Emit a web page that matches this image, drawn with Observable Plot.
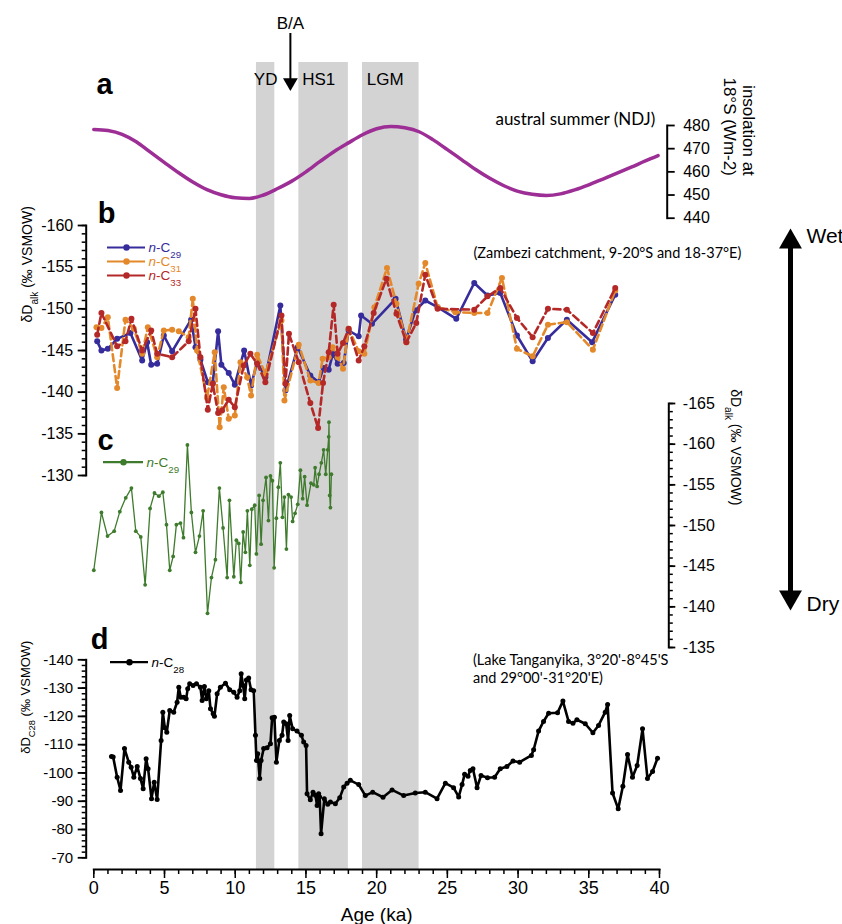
<!DOCTYPE html>
<html>
<head>
<meta charset="utf-8">
<script src="https://cdn.jsdelivr.net/npm/d3@7"></script>
<script src="https://cdn.jsdelivr.net/npm/@observablehq/plot@0.6"></script>
<style>
  html, body { margin: 0; padding: 0; background: white; }
  #chart { position: relative; width: 842px; height: 924px; overflow: hidden; }
  #chart svg { position: absolute; left: 0; top: 0; }
</style>
</head>
<body>
<div id="chart"></div>
<script>
// ---------------- DATA ----------------
// Event bands (ka)
const eventName = ["YD", "HS1", "LGM"];
const bandStart = [11.5, 14.5, 19.0];
const bandEnd = [12.8, 18.0, 23.0];
const eventLabelAge = [12.15, 15.9, 20.6];
const baAge = 13.9;

// a: austral summer (NDJ) insolation at 18°S (W m-2)
const insolation = [[0,478.3],[1,477.8],[2,476.2],[3,473.0],[4,468.5],[5,464.0],[6,459.6],[7,455.6],[8,452.3],[9,450.1],[10,448.8],[11,448.5],[12,450.0],[13,452.8],[14,456.0],[15,460.0],[16,464.5],[17,468.8],[18,472.5],[19,476.0],[20,478.6],[21,479.6],[22,479.0],[23,477.3],[24,473.8],[25,469.6],[26,465.3],[27,461.0],[28,457.2],[29,454.0],[30,451.6],[31,450.3],[32,449.8],[33,450.5],[34,452.2],[35,454.4],[36,456.9],[37,459.4],[38,462.0],[39,464.7],[39.9,467.0]];
const insolTicks = [440, 450, 460, 470, 480];

// b: Zambezi catchment dD (n-C29, n-C31, n-C33)
const bC29 = [[0.24,-146.1],[0.54,-145.0],[0.99,-145.2],[1.65,-146.4],[2.59,-147.1],[3.42,-143.8],[3.77,-146.0],[4.06,-143.3],[4.48,-143.4],[4.95,-146.8],[5.54,-144.9],[6.88,-148.7],[7.19,-145.4],[7.54,-143.9],[8.06,-141.2],[8.41,-141.1],[8.79,-147.3],[9.02,-143.3],[9.54,-142.3],[9.97,-140.9],[10.63,-145.0],[11.12,-140.8],[11.55,-143.6],[12.13,-141.8],[13.19,-150.4],[13.55,-140.2],[14.42,-145.4],[15.31,-142.0],[15.90,-141.2],[16.25,-142.9],[16.61,-142.7],[16.92,-144.7],[17.24,-143.4],[17.67,-143.5],[18.02,-147.4],[18.73,-146.7],[18.90,-149.2],[19.67,-148.2],[21.34,-151.2],[22.08,-146.3],[22.74,-149.8],[23.44,-151.0],[24.31,-150.2],[25.63,-148.8],[26.90,-153.1],[27.84,-151.6],[28.74,-151.9],[29.92,-146.8],[31.03,-143.7],[32.11,-146.5],[33.45,-148.7],[35.24,-146.0],[36.87,-151.7]];
const bC31 = [[0.19,-147.8],[0.54,-147.7],[0.99,-149.0],[1.65,-140.5],[2.24,-148.7],[2.83,-147.6],[3.42,-144.6],[3.82,-147.8],[4.48,-144.2],[4.95,-147.4],[5.54,-147.5],[6.01,-147.3],[6.71,-146.6],[7.00,-151.2],[7.30,-145.0],[8.01,-139.3],[8.55,-144.8],[8.90,-135.8],[9.19,-140.6],[9.54,-136.8],[9.97,-137.2],[10.37,-143.6],[10.84,-141.8],[11.12,-139.6],[11.55,-144.5],[12.13,-142.2],[13.27,-148.6],[13.48,-139.0],[14.49,-145.7],[15.31,-141.4],[15.90,-141.1],[16.18,-144.0],[16.61,-144.2],[16.89,-145.4],[17.24,-144.2],[17.62,-142.8],[18.02,-147.6],[18.73,-144.9],[19.13,-144.6],[19.84,-150.2],[20.73,-154.9],[21.40,-150.6],[22.10,-146.0],[22.97,-153.0],[23.44,-155.5],[24.31,-150.2],[25.56,-149.6],[26.90,-149.5],[27.84,-149.5],[28.86,-153.7],[29.92,-145.2],[31.03,-144.3],[32.11,-148.1],[33.45,-148.4],[35.29,-145.1],[36.87,-152.2]];
const bC33 = [[0.24,-146.9],[0.54,-149.5],[1.65,-145.5],[2.24,-146.1],[2.66,-148.8],[3.42,-145.0],[4.06,-147.4],[4.48,-144.6],[5.54,-144.2],[6.71,-146.1],[7.19,-150.0],[7.54,-144.2],[8.06,-137.9],[8.41,-141.0],[8.79,-137.5],[9.07,-137.8],[9.54,-139.1],[9.97,-138.2],[10.60,-143.2],[11.07,-144.6],[11.55,-143.4],[12.13,-141.2],[13.27,-149.2],[13.55,-141.0],[13.80,-147.0],[14.49,-143.6],[15.31,-138.7],[15.86,-135.7],[16.21,-141.1],[16.61,-144.8],[16.96,-150.5],[17.24,-144.6],[17.62,-145.9],[18.02,-147.6],[18.73,-143.8],[19.13,-145.5],[19.79,-149.5],[20.69,-153.6],[21.40,-149.4],[22.10,-146.0],[22.80,-148.3],[23.44,-154.1],[24.31,-150.0],[26.90,-149.9],[27.84,-151.5],[28.74,-152.5],[29.92,-148.9],[31.03,-146.6],[32.11,-150.0],[33.45,-149.9],[35.29,-147.1],[36.87,-152.5]];
const bTicks = [-160, -155, -150, -145, -140, -135, -130];

// c: n-C29 dD
const cC29 = [[0.00,-144.5],[0.54,-151.6],[0.97,-148.7],[1.44,-149.3],[1.84,-151.7],[2.26,-153.4],[2.66,-154.6],[2.97,-149.3],[3.32,-148.6],[3.63,-142.7],[3.98,-152.1],[4.29,-154.0],[4.60,-153.6],[4.88,-154.1],[5.14,-150.1],[5.37,-144.5],[5.61,-146.2],[5.84,-150.1],[6.13,-150.3],[6.34,-148.5],[6.62,-159.9],[6.90,-151.6],[7.19,-146.7],[7.47,-148.7],[7.73,-151.8],[8.04,-139.2],[8.32,-143.6],[8.60,-145.8],[8.88,-154.6],[9.14,-149.7],[9.43,-143.6],[9.59,-153.1],[9.90,-143.7],[10.08,-148.2],[10.25,-147.8],[10.39,-143.0],[10.56,-149.2],[10.72,-146.7],[10.86,-151.8],[11.03,-145.1],[11.17,-152.0],[11.38,-152.5],[11.50,-146.5],[11.69,-153.7],[11.83,-147.7],[11.97,-153.1],[12.18,-155.9],[12.35,-150.6],[12.49,-156.1],[12.63,-155.5],[12.75,-144.8],[12.91,-150.9],[13.05,-154.7],[13.19,-157.7],[13.34,-151.0],[13.48,-153.5],[13.62,-147.1],[13.76,-153.8],[13.95,-153.5],[14.06,-150.5],[14.23,-151.5],[14.42,-152.6],[14.61,-156.8],[14.77,-153.3],[14.91,-156.0],[15.08,-152.5],[15.36,-155.2],[15.55,-155.0],[15.65,-157.1],[15.79,-154.8],[15.93,-156.3],[16.09,-157.7],[16.25,-159.3],[16.40,-156.3],[16.54,-159.3],[16.61,-160.9],[16.63,-162.7],[16.68,-153.7],[16.73,-152.2],[16.80,-156.3]];
const cTicks = [-165, -160, -155, -150, -145, -140, -135];

// d: Lake Tanganyika n-C28 dD
const dC28 = [[1.25,-105.8],[1.37,-105.6],[1.65,-98.5],[1.89,-93.8],[2.17,-108.6],[2.47,-103.8],[2.64,-102.0],[2.83,-98.5],[3.07,-102.3],[3.30,-98.0],[3.49,-94.4],[3.70,-105.0],[3.84,-101.5],[4.08,-90.9],[4.27,-96.7],[4.48,-90.6],[4.76,-111.5],[4.88,-121.5],[5.02,-116.0],[5.16,-114.4],[5.37,-122.1],[5.65,-121.5],[5.89,-125.0],[6.01,-130.3],[6.15,-126.8],[6.36,-126.8],[6.53,-126.2],[6.64,-129.8],[6.78,-131.5],[7.02,-130.9],[7.26,-131.5],[7.54,-130.3],[7.66,-125.6],[7.82,-130.6],[7.96,-126.2],[8.13,-129.1],[8.25,-122.7],[8.44,-120.9],[8.53,-120.0],[8.72,-128.0],[8.95,-130.3],[9.31,-131.7],[9.61,-129.4],[9.90,-128.5],[10.13,-126.8],[10.32,-129.1],[10.42,-135.1],[10.56,-130.9],[10.67,-126.2],[10.79,-132.9],[10.95,-133.6],[11.12,-129.4],[11.31,-129.1],[11.43,-113.3],[11.50,-104.4],[11.59,-106.8],[11.73,-98.0],[11.83,-104.4],[12.01,-108.6],[12.25,-108.9],[12.49,-110.3],[12.61,-119.5],[12.77,-119.7],[12.91,-103.8],[13.12,-111.5],[13.31,-113.3],[13.43,-118.0],[13.60,-117.4],[13.74,-111.5],[13.85,-120.3],[14.06,-115.6],[14.37,-114.8],[14.68,-113.3],[14.84,-110.9],[15.01,-109.7],[15.08,-92.6],[15.31,-90.5],[15.50,-93.2],[15.67,-92.1],[15.79,-88.5],[15.90,-92.6],[15.97,-91.5],[16.07,-78.5],[16.30,-90.9],[16.54,-88.9],[16.73,-89.7],[17.08,-89.1],[17.39,-91.2],[17.67,-95.0],[17.91,-96.4],[18.14,-97.4],[18.73,-95.9],[19.20,-92.0],[19.72,-93.2],[20.45,-91.4],[21.09,-94.0],[21.91,-92.0],[22.73,-92.9],[23.44,-93.2],[24.27,-90.9],[24.86,-96.4],[25.44,-94.8],[25.80,-91.5],[26.04,-95.9],[26.22,-99.5],[26.46,-98.8],[26.62,-100.9],[26.81,-101.5],[27.10,-94.8],[27.38,-99.1],[27.84,-98.3],[28.34,-98.5],[28.74,-101.5],[29.21,-102.3],[29.64,-104.2],[30.11,-103.8],[30.94,-106.2],[31.10,-108.2],[31.45,-114.8],[31.80,-118.2],[32.16,-121.1],[32.79,-121.3],[33.17,-125.4],[33.57,-118.2],[33.88,-117.6],[34.16,-118.8],[34.75,-117.4],[35.29,-114.2],[35.69,-116.8],[36.16,-121.5],[36.33,-124.2],[36.68,-92.9],[37.08,-87.3],[37.41,-95.3],[37.74,-106.5],[38.09,-98.5],[38.42,-102.6],[38.80,-115.6],[39.15,-98.0],[39.51,-100.5],[39.86,-105.2]];
const dTicks = [-140, -130, -120, -110, -100, -90, -80, -70];

const xTicks = [0, 5, 10, 15, 20, 25, 30, 35, 40];

// ---------------- LAYOUT / STYLE ----------------
const W = 842, H = 924;
const X0 = 93.3, X1 = 659;           // pixel extent of the age axis
const FONT = "'Liberation Sans', Arial, Helvetica, sans-serif";
const NOTE_FONT = "Lato, 'Open Sans', sans-serif";
const PURPLE = "#9c2e95", BLUE = "#372c9b", ORANGE = "#e4892b", RED = "#b42828", GREEN = "#3e7b2c", GREY = "#d3d3d3";
const fmt = d => String(d);
const root = document.getElementById("chart");
const SVGNS = "http://www.w3.org/2000/svg";

// *x* -> italic, _{x} -> subscript
function richify(svg) {
  svg.querySelectorAll("text").forEach(t => {
    const s = t.textContent;
    if (t.children.length || !/\*[^*]+\*|_\{/.test(s)) return;
    while (t.firstChild) t.removeChild(t.firstChild);
    for (const part of s.split(/(\*[^*]+\*|_\{[^}]+\})/)) {
      if (!part) continue;
      const ts = document.createElementNS(SVGNS, "tspan");
      if (part[0] === "*") { ts.textContent = part.slice(1, -1); ts.setAttribute("font-style", "italic"); }
      else if (part.startsWith("_{")) { ts.textContent = part.slice(2, -1); ts.setAttribute("font-size", "72%"); ts.setAttribute("baseline-shift", "sub"); }
      else ts.textContent = part;
      t.appendChild(ts);
    }
  });
}

function layer(o) {
  const {marks, x, y, ...rest} = o;
  const svg = Plot.plot({
    width: W, height: H,
    marginTop: 0, marginRight: 0, marginBottom: 0, marginLeft: 0,
    ...rest,
    x: x ?? {domain: [0, 40], range: [X0, X1], axis: null},
    y: y,
    style: {background: "transparent", fontFamily: FONT, fontSize: "16px", color: "black", overflow: "visible"},
    marks
  });
  richify(svg);
  root.appendChild(svg);
}

// ---- bands, event labels and age axis ----
layer({
  marginTop: 62, marginBottom: H - 869, marginLeft: X0, marginRight: W - X1,
  marks: [
    Plot.rect(bandStart, {x1: bandStart, x2: bandEnd, fill: GREY}),
    Plot.text(eventName, {x: eventLabelAge, frameAnchor: "top", lineAnchor: "middle", dy: 17, fontSize: 17}),
    Plot.axisX({anchor: "bottom", ticks: d3.range(0, 41, 1), tickSize: 5, tickFormat: () => "", strokeWidth: 1.5, label: null}),
    Plot.axisX({anchor: "bottom", ticks: xTicks, tickSize: 9, tickPadding: 3, tickFormat: fmt, fontSize: 18, strokeWidth: 1.5, label: null}),
    Plot.frame({anchor: "bottom", strokeWidth: 2}),
    Plot.text(["Age (ka)"], {frameAnchor: "bottom", lineAnchor: "middle", dy: 45, fontSize: 19})
  ]
});

// ---- B/A arrow ----
layer({
  marginTop: 33, marginBottom: H - 82, marginLeft: X0, marginRight: W - X1,
  marks: [
    Plot.ruleX([baAge], {strokeWidth: 2}),
    Plot.dot([baAge], {x: d => d, frameAnchor: "bottom", symbol: "triangle", rotate: 180, r: 5.5, fill: "black", stroke: "none"}),
    Plot.text(["B/A"], {x: [baAge], frameAnchor: "top", lineAnchor: "middle", dy: -10, fontSize: 17})
  ]
});

// ---- panel a: insolation ----
layer({
  marginTop: 125, marginBottom: H - 217.7, marginLeft: X0, marginRight: W - 666.7,
  y: {domain: [440, 480], axis: null},
  marks: [
    Plot.line(insolation, {stroke: PURPLE, strokeWidth: 3.5, curve: "monotone-x"}),
    Plot.axisY({anchor: "right", ticks: insolTicks, tickSize: 7, tickPadding: 9, tickFormat: fmt, fontSize: 16, strokeWidth: 1.8, label: null}),
    Plot.frame({anchor: "right", strokeWidth: 2}),
    Plot.text(["insolation at\n18°S (Wm-2)"], {frameAnchor: "right", rotate: 90, dx: 72, dy: 4, fontSize: 17, lineHeight: 1.1}),
    Plot.text(["austral summer (NDJ)"], {frameAnchor: "top-right", textAnchor: "end", lineAnchor: "middle", dx: -12, dy: -6, fontSize: 17, fontFamily: NOTE_FONT})
  ]
});

// ---- panel b ----
layer({
  marginTop: 225, marginBottom: H - 475, marginLeft: 85.7, marginRight: W - X1,
  y: {domain: [-160, -130], reverse: true, axis: null},
  marks: [
    Plot.line(bC29, {stroke: BLUE, strokeWidth: 2.6}),
    Plot.dot(bC29, {fill: BLUE, r: 3}),
    Plot.line(bC31, {stroke: ORANGE, strokeWidth: 2.6, strokeDasharray: "7,4"}),
    Plot.dot(bC31, {fill: ORANGE, r: 3}),
    Plot.line(bC33, {stroke: RED, strokeWidth: 2.6, strokeDasharray: "7,4"}),
    Plot.dot(bC33, {fill: RED, r: 3}),
    Plot.axisY({anchor: "left", ticks: d3.range(-160, -129, 1), tickSize: 4, tickFormat: () => "", strokeWidth: 1.5, label: null}),
    Plot.axisY({anchor: "left", ticks: bTicks, tickSize: 8, tickPadding: 5, tickFormat: fmt, fontSize: 16, strokeWidth: 1.8, label: null}),
    Plot.frame({anchor: "left", strokeWidth: 2}),
    Plot.text(["δD_{alk} (‰ VSMOW)"], {frameAnchor: "left", rotate: -90, dx: -58.7, dy: -28, fontSize: 14})
  ]
});

// ---- panel c ----
layer({
  marginTop: 403, marginBottom: H - 647, marginLeft: X0, marginRight: W - 668.3,
  y: {domain: [-165, -135], reverse: true, axis: null},
  marks: [
    Plot.line(cC29, {stroke: GREEN, strokeWidth: 1.3}),
    Plot.dot(cC29, {fill: GREEN, r: 1.9}),
    Plot.axisY({anchor: "right", ticks: d3.range(-165, -134, 1), tickSize: 3.5, tickFormat: () => "", strokeWidth: 1.5, label: null}),
    Plot.axisY({anchor: "right", ticks: cTicks, tickSize: 6, tickPadding: 8, tickFormat: fmt, fontSize: 16, strokeWidth: 1.8, label: null}),
    Plot.frame({anchor: "right", strokeWidth: 2}),
    Plot.text(["δD_{alk} (‰ VSMOW)"], {frameAnchor: "right", rotate: 90, dx: 66.7, dy: -20, fontSize: 14})
  ]
});

// ---- panel d ----
layer({
  marginTop: 659.3, marginBottom: H - 857.3, marginLeft: 85.7, marginRight: W - X1,
  y: {domain: [-140, -70], reverse: true, axis: null},
  marks: [
    Plot.line(dC28, {stroke: "black", strokeWidth: 2.6}),
    Plot.dot(dC28, {fill: "black", r: 2.5}),
    Plot.axisY({anchor: "left", ticks: d3.range(-140, -69, 2), tickSize: 4, tickFormat: () => "", strokeWidth: 1.5, label: null}),
    Plot.axisY({anchor: "left", ticks: dTicks, tickSize: 8, tickPadding: 5, tickFormat: fmt, fontSize: 15, strokeWidth: 1.8, label: null}),
    Plot.frame({anchor: "left", strokeWidth: 2}),
    Plot.text(["δD_{C28} (‰ VSMOW)"], {frameAnchor: "left", rotate: -90, dx: -60.7, dy: -5, fontSize: 13})
  ]
});

// ---- decorations: panel letters, legends, notes, wet/dry arrow ----
const panelLetter = ["a", "b", "c", "d"];
const letterPos = [[104, 84], [106, 213], [105, 440], [99, 639]];
const legendItems = [
  {label: "*n*-C_{29}", color: BLUE, x1: 107, x2: 145, y: 247},
  {label: "*n*-C_{31}", color: ORANGE, x1: 107, x2: 145, y: 261},
  {label: "*n*-C_{33}", color: RED, x1: 107, x2: 145, y: 275},
  {label: "*n*-C_{29}", color: GREEN, x1: 103, x2: 143, y: 461.7},
  {label: "*n*-C_{28}", color: "black", x1: 110, x2: 148, y: 661.7}
];
const notes = [
  {text: "(Zambezi catchment, 9-20°S and 18-37°E)", x: 473, y: 253},
  {text: "(Lake Tanganyika, 3°20'-8°45'S", x: 472.5, y: 660},
  {text: "and 29°00'-31°20'E)", x: 472.5, y: 678}
];
const wetDry = [{label: "Wet", y: 236, tipY: 241.3, rot: 0}, {label: "Dry", y: 604, tipY: 596.7, rot: 180}];

layer({
  x: {type: "identity", axis: null},
  y: {type: "identity", axis: null},
  marks: [
    Plot.text(panelLetter, {x: (d, i) => letterPos[i][0], y: (d, i) => letterPos[i][1], fontSize: 29, fontWeight: "bold"}),
    Plot.ruleY(legendItems, {x1: "x1", x2: "x2", y: "y", stroke: "color", strokeWidth: 2.2}),
    Plot.dot(legendItems, {x: d => (d.x1 + d.x2) / 2, y: "y", fill: "color", r: 3.2}),
    Plot.text(legendItems, {x: d => d.x2 + 3, y: "y", text: "label", fill: "color", textAnchor: "start", fontSize: 13.5}),
    Plot.text(notes, {x: "x", y: "y", text: "text", textAnchor: "start", fontSize: 14.5, fontFamily: NOTE_FONT}),
    Plot.ruleX([790], {y1: 240, y2: 598, strokeWidth: 5}),
    Plot.dot(wetDry, {x: 790, y: "tipY", rotate: "rot", symbol: "triangle", r: 8.5, fill: "black", stroke: "none"}),
    Plot.text(wetDry, {x: 806, y: "y", text: "label", textAnchor: "start", fontSize: 21})
  ]
});
</script>
</body>
</html>
